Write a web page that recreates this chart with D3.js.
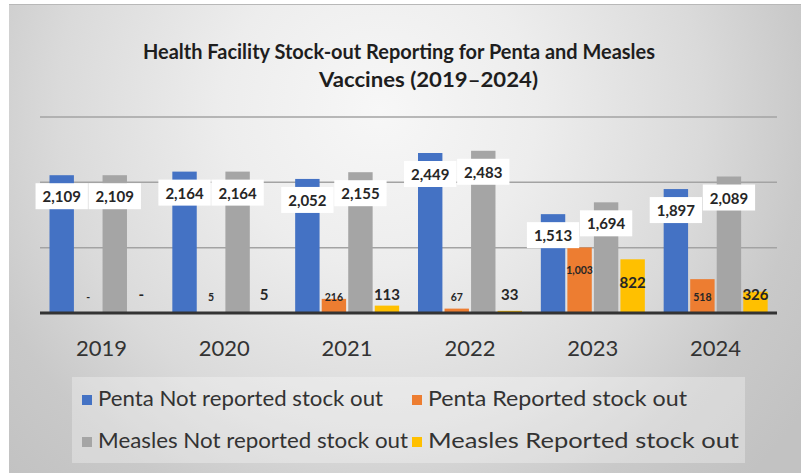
<!DOCTYPE html>
<html>
<head>
<meta charset="utf-8">
<script src="https://cdn.jsdelivr.net/npm/d3@7"></script>
<style>
  html, body { margin: 0; padding: 0; background: #ffffff; }
  svg { display: block; }
  text { font-family: Lato, "Open Sans", sans-serif; }
</style>
</head>
<body>
<svg id="chart" width="801" height="473"></svg>
<script>
// Stock-out reporting by year
const years = ["2019", "2020", "2021", "2022", "2023", "2024"];
const pentaNotReported   = [2109, 2164, 2052, 2449, 1513, 1897];
const pentaReported      = [0, 5, 216, 67, 1003, 518];
const measlesNotReported = [2109, 2164, 2155, 2483, 1694, 2089];
const measlesReported    = [0, 5, 113, 33, 822, 326];
const seriesNames = [
  "Penta Not reported stock out",
  "Penta Reported stock out",
  "Measles Not reported stock out",
  "Measles Reported stock out"
];
const seriesColors = ["#4472C4", "#ED7D31", "#A5A5A5", "#FFC000"];
const gridValues = [1000, 2000, 3000];

const series = [pentaNotReported, pentaReported, measlesNotReported, measlesReported];

const svg = d3.select("#chart");
const defs = svg.append("defs");

// Panel background: soft radial shading
const grad = defs.append("radialGradient")
  .attr("id", "panelGrad")
  .attr("gradientUnits", "userSpaceOnUse")
  .attr("cx", 380).attr("cy", 110).attr("r", 520);
[[0, "#f7f7f7"], [0.3, "#ededed"], [0.62, "#dadada"], [0.82, "#c9c9c9"], [1, "#c2c2c2"]]
  .forEach(([o, c]) => grad.append("stop").attr("offset", o).attr("stop-color", c));

svg.append("rect")
  .attr("x", 9).attr("y", 4).attr("width", 792).attr("height", 469)
  .attr("fill", "url(#panelGrad)");
svg.append("line")
  .attr("x1", 9).attr("x2", 801).attr("y1", 4.5).attr("y2", 4.5)
  .attr("stroke", "#b8b8b8").attr("stroke-width", 1);

// Title
const title = svg.append("g")
  .attr("font-weight", "bold")
  .attr("font-size", 21)
  .attr("fill", "#1e1e1e");
title.append("text")
  .attr("x", 143).attr("y", 59)
  .attr("textLength", 512).attr("lengthAdjust", "spacingAndGlyphs")
  .text("Health Facility Stock-out Reporting for Penta and Measles");
title.append("text")
  .attr("x", 319).attr("y", 87)
  .attr("textLength", 219).attr("lengthAdjust", "spacingAndGlyphs")
  .text("Vaccines (2019\u20132024)");

// Scales
const plotLeft = 40, plotRight = 777, baseY = 313, topY = 117;
const x0 = d3.scaleBand().domain(years).range([plotLeft, plotRight]);
const x1 = d3.scaleBand().domain(d3.range(4)).range([9.5, 113.5]).paddingInner(0.08);
const y = d3.scaleLinear().domain([0, 3000]).range([baseY, topY]);

// Gridlines
svg.append("g").selectAll("line")
  .data(gridValues)
  .join("line")
  .attr("x1", plotLeft).attr("x2", plotRight)
  .attr("y1", d => y(d)).attr("y2", d => y(d))
  .attr("stroke", "#a3a3a3").attr("stroke-width", 1.5);

// Bars
const barData = [];
series.forEach((vals, s) => {
  vals.forEach((v, i) => barData.push({ s, year: years[i], v }));
});
svg.append("g").selectAll("rect")
  .data(barData)
  .join("rect")
  .attr("x", d => x0(d.year) + x1(d.s))
  .attr("width", x1.bandwidth())
  .attr("y", d => y(d.v))
  .attr("height", d => baseY - y(d.v))
  .attr("fill", d => seriesColors[d.s]);

// Category axis
const xAxis = svg.append("g")
  .attr("transform", `translate(0,${baseY})`)
  .call(d3.axisBottom(x0).tickSize(0).tickPadding(27));
xAxis.select(".domain")
  .attr("stroke", "#333333").attr("stroke-width", 3)
  .attr("d", `M${plotLeft},0H${plotRight}`);
xAxis.selectAll("text")
  .attr("font-family", "Lato, sans-serif")
  .attr("font-size", 22)
  .attr("fill", "#333333");

const fmt = d3.format(",");
const labelText = v => v === 0 ? "-" : fmt(v);

// Labels for the "not reported" series: white boxes near the bar tops
const boxData = barData.filter(d => d.s === 0 || d.s === 2);
const boxes = svg.append("g");
boxData.forEach(d => {
  const cx = x0(d.year) + x1(d.s) + x1.bandwidth() / 2;
  const cy = y(d.v) + 21;
  const t = boxes.append("text")
    .attr("x", cx).attr("y", cy)
    .attr("text-anchor", "middle")
    .attr("dominant-baseline", "central")
    .attr("font-size", 15)
    .attr("font-weight", "bold")
    .attr("fill", "#262626")
    .text(labelText(d.v));
  d.tw = t.node().getComputedTextLength();
  d.cx = cx; d.cy = cy;
});
boxData.forEach(d => {
  boxes.insert("rect", "text")
    .attr("x", d.cx - d.tw / 2 - 7)
    .attr("y", d.cy - 13)
    .attr("width", d.tw + 14)
    .attr("height", 26)
    .attr("fill", "#ffffff");
});

// Labels for the "reported" series
const repData = barData.filter(d => d.s === 1 || d.s === 3);
svg.append("g").selectAll("text")
  .data(repData)
  .join("text")
  .attr("x", d => x0(d.year) + x1(d.s) + x1.bandwidth() / 2)
  .attr("y", d => Math.min(y(d.v) + 23, baseY - (d.s === 1 ? 16 : 19)))
  .attr("text-anchor", "middle")
  .attr("dominant-baseline", "central")
  .attr("font-weight", "bold")
  .attr("font-size", d => d.s === 1 ? 10.5 : 15)
  .attr("fill", "#262626")
  .text(d => labelText(d.v));

// Legend
const legend = svg.append("g");
legend.append("rect")
  .attr("x", 72).attr("y", 377).attr("width", 673).attr("height", 86)
  .attr("fill", "#ffffff").attr("fill-opacity", 0.3);
const legendPos = [
  { x: 82, y: 406, w: 285 }, { x: 412, y: 406, w: 259 },
  { x: 82, y: 448, w: 310 }, { x: 412, y: 448, w: 311 }
];
seriesNames.forEach((name, i) => {
  const p = legendPos[i];
  legend.append("rect")
    .attr("x", p.x).attr("y", p.y - 11)
    .attr("width", 10).attr("height", 10)
    .attr("fill", seriesColors[i]);
  legend.append("text")
    .attr("x", p.x + 16).attr("y", p.y)
    .attr("font-size", 21)
    .attr("fill", "#333333")
    .attr("textLength", p.w).attr("lengthAdjust", "spacingAndGlyphs")
    .text(name);
});
</script>
</body>
</html>
